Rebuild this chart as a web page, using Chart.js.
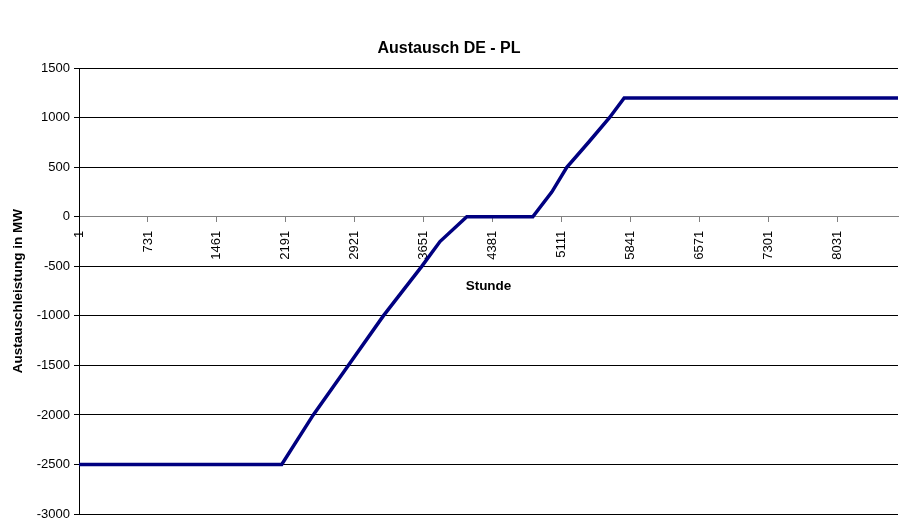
<!DOCTYPE html>
<html>
<head>
<meta charset="utf-8">
<script src="https://cdn.jsdelivr.net/npm/chart.js@4/dist/chart.umd.min.js"></script>
<style>
  html, body { margin: 0; padding: 0; background: #fff; }
  #wrap { width: 899px; height: 523px; }
</style>
</head>
<body>
<div id="wrap"><canvas id="c" width="899" height="523"></canvas></div>
<script>
// Sorted hourly exchange DE - PL (MW): vertices of the curve over the year
const hours = [1, 2148, 2482, 2853, 3224, 3631, 3824, 4108, 4807, 5008, 5167, 5396, 5619, 5775, 8760];
const exchangeMW = [-2500, -2500, -2000, -1500, -1000, -500, -250, 0, 0, 250, 500, 750, 1000, 1200, 1200];

// Hour labels shown along the axis (every 730 h)
const hourTicks = [1, 731, 1461, 2191, 2921, 3651, 4381, 5111, 5841, 6571, 7301, 8031];
const mwTicks = [1500, 1000, 500, 0, -500, -1000, -1500, -2000, -2500, -3000];

const FONT = "'Liberation Sans', Arial, sans-serif";

new Chart(document.getElementById('c'), {
  type: 'line',
  data: {
    datasets: [{
      data: hours.map((h, i) => ({ x: h, y: exchangeMW[i] })),
      borderColor: '#000080',
      borderWidth: 3.5,
      pointRadius: 0,
      tension: 0,
      fill: false
    }]
  },
  options: {
    responsive: false,
    animation: false,
    layout: { padding: { left: 0, right: 1, top: 0, bottom: 9 } },
    plugins: {
      legend: { display: false },
      tooltip: { enabled: false },
      title: {
        display: true,
        text: 'Austausch DE - PL',
        color: '#000',
        font: { family: FONT, size: 16, weight: 'bold' },
        padding: { top: 39, bottom: 10 }
      }
    },
    scales: {
      x: {
        type: 'linear',
        position: { y: 0 },
        min: 1,
        max: 8675,
        afterBuildTicks: s => { s.ticks = hourTicks.map(v => ({ value: v })); },
        ticks: {
          autoSkip: false,
          minRotation: 90,
          maxRotation: 90,
          padding: 9,
          color: '#000',
          font: { family: FONT, size: 13 },
          callback: v => String(v)
        },
        grid: {
          drawOnChartArea: false,
          drawTicks: true,
          tickLength: 5,
          color: '#808080'
        },
        border: { display: true, color: '#808080', width: 1 },
        title: {
          display: true,
          text: 'Stunde',
          color: '#000',
          font: { family: FONT, size: 13.5, weight: 'bold' },
          padding: { top: 9, bottom: 0 }
        }
      },
      y: {
        type: 'linear',
        min: -3000,
        max: 1500,
        afterBuildTicks: s => { s.ticks = mwTicks.map(v => ({ value: v })); },
        afterFit: s => { s.width = 79; s.paddingTop = 0; s.paddingBottom = 0; },
        ticks: {
          color: '#000',
          padding: 4,
          font: { family: FONT, size: 13 },
          callback: v => String(v)
        },
        grid: {
          color: ctx => (ctx.tick && ctx.tick.value === 0) ? '#808080' : '#000',
          tickColor: '#000',
          tickLength: 5,
          lineWidth: 1
        },
        border: { display: true, color: '#000', width: 1 },
        title: {
          display: true,
          text: 'Austauschleistung in MW',
          color: '#000',
          font: { family: FONT, size: 13.5, weight: 'bold' },
          padding: { top: 10, bottom: 0 }
        }
      }
    }
  }
});
</script>
</body>
</html>
